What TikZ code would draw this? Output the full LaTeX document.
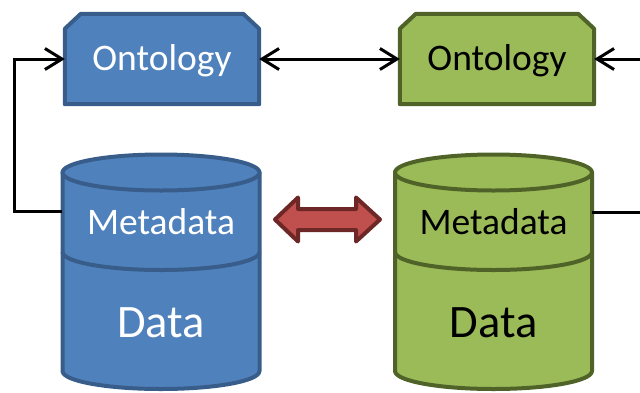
\documentclass[tikz,border=0pt]{standalone}
\usepackage{fontspec}
\setmainfont{Carlito}
\usetikzlibrary{arrows.meta,backgrounds}
\definecolor{bfill}{HTML}{4F81BD}
\definecolor{bline}{HTML}{385D8A}
\definecolor{gfill}{HTML}{9BBB59}
\definecolor{gline}{HTML}{4F6228}
\definecolor{rfill}{HTML}{C0504D}
\definecolor{rline}{HTML}{6E2727}
\tikzset{
  conn/.style={line width=3pt, black},
  >={Straight Barb[length=17pt,width=21pt]},
  ontbox/.style={minimum width=194pt, minimum height=90pt, inner sep=0pt,
    font=\fontsize{37.5}{41}\selectfont, text height=23.7pt, text depth=0pt},
  mdtext/.style={minimum width=197pt, inner sep=0pt,
    font=\fontsize{37.5}{41}\selectfont, text height=23.7pt, text depth=0pt},
  dttext/.style={inner sep=0pt,
    font=\fontsize{46.5}{51}\selectfont, text height=29.4pt, text depth=0pt},
  cylpart/.style={line width=4pt, line join=round}
}
\begin{document}
\begin{tikzpicture}[x=1pt,y=-1pt]
\useasboundingbox (0,0) rectangle (640,392);

% cylinders (x centre / fill / line)
\foreach \cx/\f/\l in {161/bfill/bline, 493.5/gfill/gline}{
  \path[cylpart, fill=\f, draw=\l]
    (\cx-98.5,172.5) -- (\cx-98.5,371)
    .. controls (\cx-98.5,381) and (\cx-54.4,389) .. (\cx,389)
    .. controls (\cx+54.4,389) and (\cx+98.5,381) .. (\cx+98.5,371)
    -- (\cx+98.5,172.5) -- cycle;
  \path[cylpart, fill=\f, draw=\l] (\cx,172.5) ellipse [x radius=98.5, y radius=18];
  \draw[cylpart, draw=\l]
    (\cx-98.5,252) .. controls (\cx-98.5,262) and (\cx-54.4,270) .. (\cx,270)
    .. controls (\cx+54.4,270) and (\cx+98.5,262) .. (\cx+98.5,252);
}

% ontology boxes
\node[ontbox, text=white] (ontA) at (162,59) {Ontology};
\node[ontbox, text=black] (ontB) at (497,59) {Ontology};
\begin{scope}[on background layer]
  \foreach \n/\f/\l in {ontA/bfill/bline, ontB/gfill/gline}{
    \draw[line width=4pt, fill=\f, draw=\l, line join=round]
      (\n.south west) -- ([yshift=-15pt]\n.north west) -- ([xshift=16pt]\n.north west)
      -- ([xshift=-16pt]\n.north east) -- ([yshift=-15pt]\n.north east)
      -- (\n.south east) -- cycle;
  }
\end{scope}

% cylinder texts
\node[mdtext, text=white] (mdA) at (161,222.5) {Metadata};
\node[dttext, text=white] (dA) at (161,323) {Data};
\node[mdtext, text=black] (mdB) at (493.5,222.5) {Metadata};
\node[dttext, text=black] (dB) at (493.5,323) {Data};

% block double arrow
\draw[fill=rfill, draw=rline, line width=4pt, line join=round]
  (275,219.5) -- (298,197.5) -- (298,209) -- (356,209) -- (356,197.5)
  -- (380,219.5) -- (356,241.5) -- (356,230) -- (298,230) -- (298,241.5) -- cycle;

% connectors
\coordinate (edgeTop) at (640,59);
\coordinate (edgeMid) at (640,212);
\draw[conn,->] ([yshift=11.5pt]mdA.west) -- ++(-48,0) |- (ontA.west);
\draw[conn,<->] (ontA.east) -- (ontB.west);
\draw[conn,->] (edgeTop) -- (ontB.east);
\draw[conn] ([yshift=10.5pt]mdB.east) -- (edgeMid);
\end{tikzpicture}
\end{document}
